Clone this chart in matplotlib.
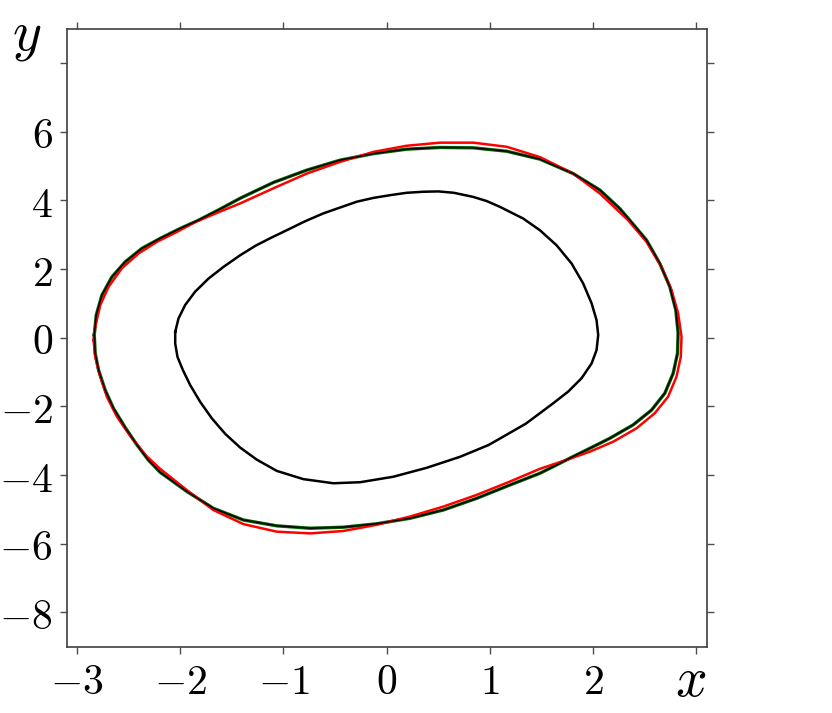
import numpy as np
import matplotlib
matplotlib.use('Agg')
import matplotlib.pyplot as plt

plt.rcParams['mathtext.fontset'] = 'cm'

# inner closed orbit (black), clockwise from the left end
inner_x = [-2.049, -2.017, -1.953, -1.856, -1.727, -1.582, -1.420, -1.27, -1.12, -0.968,
           -0.791, -0.614, -0.452, -0.290, -0.13, 0.032, 0.194, 0.354, 0.50, 0.65,
           0.838, 0.968, 1.097, 1.322, 1.484, 1.646, 1.791, 1.903, 1.985, 2.033,
           2.049, 2.033, 1.985, 1.888, 1.758, 1.613, 1.484, 1.35, 1.20, 1.09,
           0.984, 0.710, 0.387, 0.064, -0.258, -0.517, -0.807, -1.065, -1.26, -1.42,
           -1.565, -1.694, -1.807, -1.904, -1.975, -2.027, -2.049]
inner_y = [0.17, 0.56, 0.95, 1.34, 1.72, 2.06, 2.40, 2.68, 2.91, 3.13,
           3.39, 3.62, 3.79, 3.96, 4.07, 4.15, 4.22, 4.25, 4.26, 4.22,
           4.10, 3.98, 3.81, 3.47, 3.13, 2.69, 2.16, 1.58, 1.00, 0.51,
           0.08, -0.36, -0.75, -1.18, -1.57, -1.91, -2.20, -2.50, -2.76, -2.95,
           -3.13, -3.47, -3.79, -4.05, -4.21, -4.24, -4.12, -3.88, -3.55, -3.20,
           -2.80, -2.35, -1.87, -1.38, -0.94, -0.56, -0.17]

# outer orbit (green with a thin black line over it)
outer_x = [-2.833, -2.814, -2.759, -2.662, -2.533, -2.372, -2.195, -2.001, -1.824, -1.63,
           -1.42, -1.098, -0.774, -0.452, -0.130, 0.194, 0.516, 0.838, 1.162, 1.484,
           1.806, 2.065, 2.258, 2.355, 2.517, 2.646, 2.743, 2.801, 2.823, 2.817,
           2.775, 2.694, 2.565, 2.387, 2.162, 1.936, 1.774, 1.63, 1.484, 1.194,
           0.871, 0.548, 0.226, -0.097, -0.420, -0.742, -1.065, -1.388, -1.679, -1.936,
           -2.195, -2.31, -2.42, -2.533, -2.647, -2.727, -2.792, -2.824]
outer_y = [0.08, 0.66, 1.24, 1.77, 2.21, 2.60, 2.89, 3.18, 3.42, 3.72,
           4.06, 4.52, 4.88, 5.17, 5.36, 5.49, 5.54, 5.53, 5.43, 5.20,
           4.78, 4.30, 3.76, 3.42, 2.84, 2.16, 1.48, 0.80, 0.13, -0.46,
           -1.04, -1.62, -2.11, -2.54, -2.93, -3.27, -3.51, -3.73, -3.95, -4.29,
           -4.68, -5.02, -5.26, -5.42, -5.52, -5.55, -5.48, -5.31, -4.97, -4.48,
           -3.92, -3.56, -3.12, -2.62, -2.06, -1.53, -0.94, -0.46]

# second outer orbit (red)
red_x = [-2.840, -2.824, -2.775, -2.695, -2.566, -2.405, -2.227, -2.033, -1.853, -1.64,
         -1.42, -1.098, -0.774, -0.452, -0.130, 0.194, 0.516, 0.838, 1.162, 1.484,
         1.806, 2.065, 2.339, 2.517, 2.662, 2.759, 2.823, 2.856, 2.849,
         2.807, 2.726, 2.597, 2.420, 2.194, 1.968, 1.742, 1.484, 1.194, 0.871,
         0.548, 0.226, -0.097, -0.420, -0.742, -1.065, -1.388, -1.679, -1.936, -2.195,
         -2.33, -2.485, -2.614, -2.711, -2.775, -2.824]
red_y = [-0.07, 0.32, 0.95, 1.48, 2.02, 2.45, 2.79, 3.08, 3.37, 3.64,
         3.91, 4.35, 4.78, 5.12, 5.41, 5.59, 5.68, 5.68, 5.56, 5.26,
         4.78, 4.20, 3.42, 2.79, 2.06, 1.39, 0.71, 0.03, -0.56,
         -1.14, -1.72, -2.20, -2.64, -3.03, -3.32, -3.56, -3.82, -4.19, -4.58,
         -4.92, -5.21, -5.45, -5.63, -5.70, -5.65, -5.43, -5.02, -4.44, -3.82,
         -3.44, -2.86, -2.30, -1.72, -1.14, -0.56]

x_ticks = [-3, -2, -1, 0, 1, 2, 3]
y_ticks = [-8, -6, -4, -2, 0, 2, 4, 6, 8]


def closed(a):
    return list(a) + [a[0]]


fig = plt.figure(figsize=(8.32, 7.13), dpi=100)
ax = fig.add_axes([0.0802, 0.093, 0.7692, 0.8668])

ax.plot(closed(outer_x), closed(outer_y), color='darkgreen', lw=2.4, zorder=2)
ax.plot(closed(red_x), closed(red_y), color='red', lw=1.8, zorder=3)
ax.plot(closed(outer_x), closed(outer_y), color='black', lw=1.0, zorder=4)
ax.plot(closed(inner_x), closed(inner_y), color='black', lw=1.8, zorder=4)

ax.set_xlim(-3.1, 3.1)
ax.set_ylim(-9, 9)

ax.set_xticks(x_ticks)
ax.set_yticks(y_ticks)
ax.set_xticklabels([r'$%d$' % v for v in x_ticks[:-1]] + [''])
ax.set_yticklabels([r'$%d$' % v for v in y_ticks[:-1]] + [''])
ax.tick_params(direction='out', length=5, width=1, color='0.3', pad=5,
               labelsize=30, top=True, right=True)
for sp in ax.spines.values():
    sp.set_color('0.25')
    sp.set_linewidth(1.2)

fig.text(27 / 832, 1 - 36 / 713, r'$y$', fontsize=40, ha='center', va='center')
fig.text(691 / 832, 1 - 681 / 713, r'$x$', fontsize=40, ha='center', va='center')

fig.savefig('out.png', dpi=100)
